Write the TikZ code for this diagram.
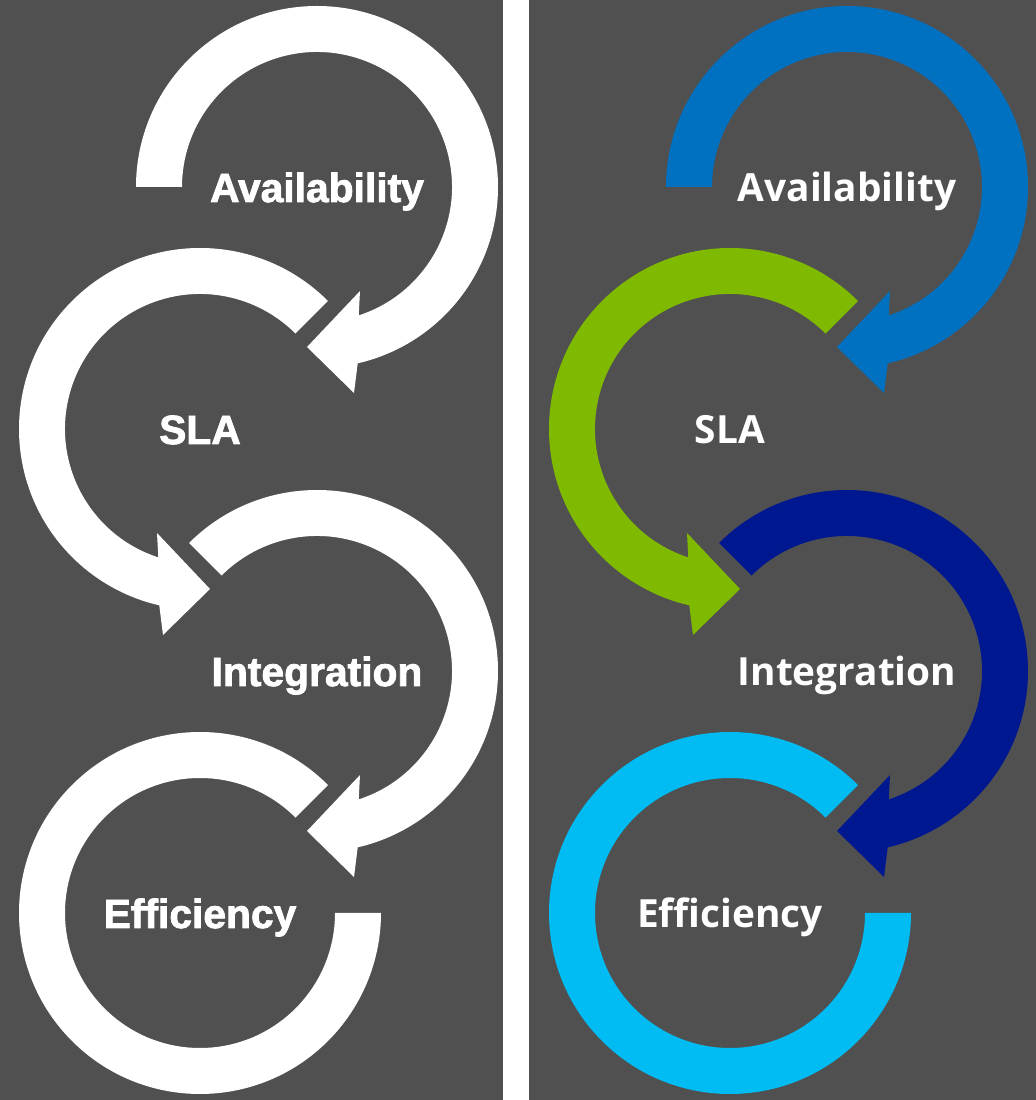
\documentclass[tikz,border=0pt]{standalone}
\usepackage{fontspec}
\setmainfont{Liberation Sans}[BoldFeatures={FakeBold=2}]
\newfontfamily\uifont{Open Sans}
\usepackage{tikz}

\definecolor{panelgray}{HTML}{505050}
\definecolor{availblue}{HTML}{0070C0}
\definecolor{slagreen}{HTML}{7FBA00}
\definecolor{integblue}{HTML}{00188F}
\definecolor{efficyan}{HTML}{00BCF2}

\tikzset{
    cycletext/.style={text=white, anchor=base, font=\bfseries\fontsize{29}{34}\selectfont},
    uitext/.style={text=white, anchor=base, font=\uifont\bfseries\fontsize{27.6}{32}\selectfont}
}

\begin{document}
\begin{tikzpicture}[x=0.025cm, y=0.025cm]
    \useasboundingbox (0,0) rectangle (1036,1100);
    \fill[white] (0,0) rectangle (1036,1100);
    \fill[panelgray] (0,0) rectangle (503,1100);
    \fill[panelgray] (529,0) rectangle (1036,1100);

    % left panel
    \begin{scope}[shift={(317,913)}]
        \fill[white] (180:181) arc[start angle=180, end angle=-77, radius=181]
            -- (37,-206) -- (-10,-160) -- (43,-104)
            -- (-72:135) arc[start angle=-72, end angle=180, radius=135] -- cycle;
        \node[cycletext] (availL) at (0,-15) {Availability};
    \end{scope}
    \begin{scope}[shift={(200,671)}]
        \fill[white] (45:181) arc[start angle=45, end angle=257, radius=181]
            -- (-37,-206) -- (10,-160) -- (-43,-104)
            -- (252:135) arc[start angle=252, end angle=45, radius=135] -- cycle;
        \node[cycletext] (slaL) at (0,-15) {SLA};
    \end{scope}
    \begin{scope}[shift={(317,429)}]
        \fill[white] (135:181) arc[start angle=135, end angle=-77, radius=181]
            -- (37,-206) -- (-10,-160) -- (43,-104)
            -- (-72:135) arc[start angle=-72, end angle=135, radius=135] -- cycle;
        \node[cycletext] (integL) at (0,-15) {Integration};
    \end{scope}
    \begin{scope}[shift={(200,187)}]
        \fill[white] (45:181) arc[start angle=45, end angle=360, radius=181]
            -- (0:135) arc[start angle=360, end angle=45, radius=135] -- cycle;
        \node[cycletext] (efficL) at (0,-15) {Efficiency};
    \end{scope}

    % right panel
    \begin{scope}[shift={(847,913)}]
        \fill[availblue] (180:181) arc[start angle=180, end angle=-77, radius=181]
            -- (37,-206) -- (-10,-160) -- (43,-104)
            -- (-72:135) arc[start angle=-72, end angle=180, radius=135] -- cycle;
        \node[uitext] (availR) at (0,-15) {Availability};
    \end{scope}
    \begin{scope}[shift={(730,671)}]
        \fill[slagreen] (45:181) arc[start angle=45, end angle=257, radius=181]
            -- (-37,-206) -- (10,-160) -- (-43,-104)
            -- (252:135) arc[start angle=252, end angle=45, radius=135] -- cycle;
        \node[uitext] (slaR) at (0,-15) {SLA};
    \end{scope}
    \begin{scope}[shift={(847,429)}]
        \fill[integblue] (135:181) arc[start angle=135, end angle=-77, radius=181]
            -- (37,-206) -- (-10,-160) -- (43,-104)
            -- (-72:135) arc[start angle=-72, end angle=135, radius=135] -- cycle;
        \node[uitext] (integR) at (0,-15) {Integration};
    \end{scope}
    \begin{scope}[shift={(730,187)}]
        \fill[efficyan] (45:181) arc[start angle=45, end angle=360, radius=181]
            -- (0:135) arc[start angle=360, end angle=45, radius=135] -- cycle;
        \node[uitext] (efficR) at (0,-15) {Efficiency};
    \end{scope}
\end{tikzpicture}
\end{document}
